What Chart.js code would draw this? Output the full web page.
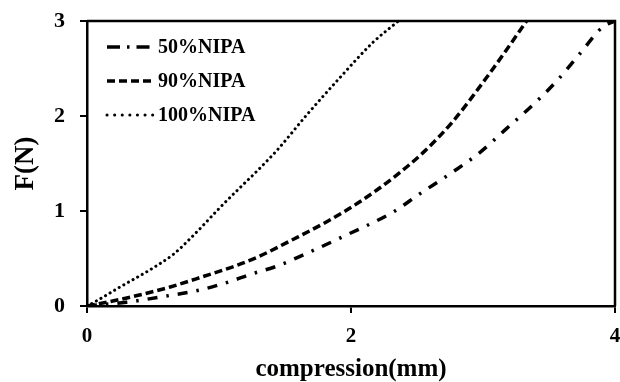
<!DOCTYPE html>
<html>
<head>
<meta charset="utf-8">
<script src="https://cdn.jsdelivr.net/npm/chart.js@4.4.1/dist/chart.umd.min.js"></script>
<style>
  html, body { margin: 0; padding: 0; background: #fff; }
  #wrap { width: 620px; height: 382px; }
</style>
</head>
<body>
<div id="wrap"><canvas id="forceChart"></canvas></div>
<script>
// data
const seriesLabels = ['50%NIPA', '90%NIPA', '100%NIPA'];

const x50 = [0, 0.3, 0.58, 0.86, 1.11, 1.23, 1.44, 1.61, 1.97, 2.32, 2.52, 2.77, 2.98, 3.18, 3.38, 3.56, 3.73, 3.91, 4.0];
const y50 = [0, 0.04, 0.1, 0.17, 0.27, 0.33, 0.42, 0.52, 0.75, 0.99, 1.18, 1.41, 1.62, 1.87, 2.12, 2.37, 2.65, 2.94, 3.0];

const x90 = [0, 0.15, 0.38, 0.63, 0.88, 1.14, 1.3, 1.56, 1.82, 2.07, 2.32, 2.55, 2.77, 3.03, 3.2, 3.33];
const y90 = [0, 0.04, 0.11, 0.2, 0.31, 0.43, 0.52, 0.7, 0.89, 1.1, 1.35, 1.62, 1.94, 2.41, 2.74, 3.0];

const x100 = [0, 0.08, 0.25, 0.5, 0.66, 0.76, 0.86, 1.01, 1.14, 1.28, 1.44, 1.67, 1.92, 2.17, 2.36];
const y100 = [0, 0.06, 0.2, 0.4, 0.55, 0.68, 0.82, 1.04, 1.22, 1.41, 1.64, 2.02, 2.41, 2.78, 3.0];

const xTicks = [0, 2, 4];
const yTicks = [0, 1, 2, 3];

const serif = "'Liberation Serif', 'Times New Roman', serif";

function toPoints(xs, ys) {
    return xs.map(function(x, i) { return { x: x, y: ys[i] }; });
}

// no label overhang padding, layout padding alone places the plot
function noOverhang(scale) {
    scale.paddingLeft = 0;
    scale.paddingRight = 0;
    scale.paddingTop = 0;
    scale.paddingBottom = 0;
}

// top and right frame lines
const framePlugin = {
    id: 'frame',
    afterDraw(chart) {
        const a = chart.chartArea;
        const ctx = chart.ctx;
        ctx.save();
        ctx.strokeStyle = '#000';
        ctx.lineWidth = 2.5;
        ctx.beginPath();
        ctx.moveTo(a.left, a.top);
        ctx.lineTo(a.right, a.top);
        ctx.lineTo(a.right, a.bottom);
        ctx.stroke();
        ctx.restore();
    }
};

// legend inside plot, top-left
const insideLegend = {
    id: 'insideLegend',
    afterDraw(chart) {
        const a = chart.chartArea;
        const ctx = chart.ctx;
        ctx.save();
        chart.data.datasets.forEach(function(ds, i) {
            const y = a.top + 26 + i * 34;
            ctx.strokeStyle = '#000';
            ctx.lineWidth = ds.borderWidth;
            ctx.lineCap = ds.borderCapStyle || 'butt';
            ctx.setLineDash(ds.legendDash);
            ctx.beginPath();
            ctx.moveTo(a.left + 20, y);
            ctx.lineTo(a.left + 66, y);
            ctx.stroke();
            ctx.setLineDash([]);
            ctx.fillStyle = '#000';
            ctx.font = 'bold 20px ' + serif;
            ctx.textBaseline = 'middle';
            ctx.textAlign = 'left';
            ctx.fillText(ds.label, a.left + 71, y + 1);
        });
        ctx.restore();
    }
};

const ctx = document.getElementById('forceChart');

new Chart(ctx.getContext('2d'), {
    type: 'scatter',
    data: {
        datasets: [{
            label: seriesLabels[0],
            data: toPoints(x50, y50),
            borderColor: '#000',
            borderWidth: 3.5,
            borderDash: [10, 9, 2.5, 9],
            legendDash: [13, 7, 2.5, 7],
            showLine: true,
            pointRadius: 0,
            cubicInterpolationMode: 'monotone'
        }, {
            label: seriesLabels[1],
            data: toPoints(x90, y90),
            borderColor: '#000',
            borderWidth: 3.5,
            borderDash: [8, 4],
            legendDash: [8, 4],
            showLine: true,
            pointRadius: 0,
            cubicInterpolationMode: 'monotone'
        }, {
            label: seriesLabels[2],
            data: toPoints(x100, y100),
            borderColor: '#000',
            borderWidth: 3,
            borderDash: [0.1, 5.2],
            legendDash: [0.1, 7.5],
            borderCapStyle: 'round',
            showLine: true,
            pointRadius: 0,
            cubicInterpolationMode: 'monotone'
        }]
    },
    options: {
        responsive: true,
        maintainAspectRatio: false,
        animation: false,
        layout: {
            padding: { top: 21, right: 5, left: 0, bottom: 0 }
        },
        plugins: {
            legend: { display: false },
            tooltip: { enabled: false }
        },
        scales: {
            x: {
                type: 'linear',
                min: 0,
                max: 4,
                afterBuildTicks: function(scale) {
                    scale.ticks = xTicks.map(function(v) { return { value: v }; });
                },
                afterFit: function(scale) { scale.height = 76; noOverhang(scale); },
                ticks: {
                    color: '#000',
                    padding: 11,
                    font: { family: serif, size: 21, weight: 'bold' }
                },
                grid: {
                    drawOnChartArea: false,
                    drawTicks: true,
                    tickLength: 7,
                    color: '#000',
                    lineWidth: 2
                },
                border: { display: true, color: '#000', width: 2.5 },
                title: {
                    display: true,
                    text: 'compression(mm)',
                    color: '#000',
                    padding: 0,
                    font: { family: serif, size: 25, weight: 'bold', lineHeight: 1 }
                }
            },
            y: {
                type: 'linear',
                min: 0,
                max: 3,
                afterBuildTicks: function(scale) {
                    scale.ticks = yTicks.map(function(v) { return { value: v }; });
                },
                afterFit: function(scale) { scale.width = 87; noOverhang(scale); },
                ticks: {
                    color: '#000',
                    padding: 15,
                    font: { family: serif, size: 22, weight: 'bold' }
                },
                grid: {
                    drawOnChartArea: false,
                    drawTicks: true,
                    tickLength: 7,
                    color: '#000',
                    lineWidth: 2
                },
                border: { display: true, color: '#000', width: 2.5 },
                title: {
                    display: true,
                    text: 'F(N)',
                    color: '#000',
                    padding: 13,
                    font: { family: serif, size: 27, weight: 'bold', lineHeight: 1 }
                }
            }
        }
    },
    plugins: [framePlugin, insideLegend]
});
</script>
</body>
</html>
